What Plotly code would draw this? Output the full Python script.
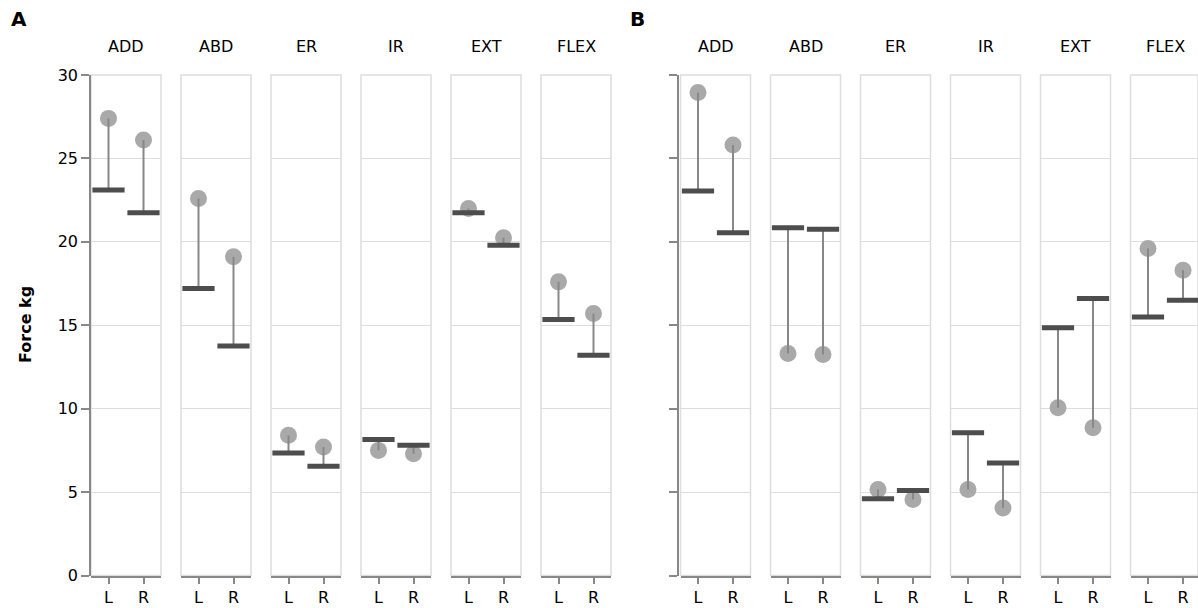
import plotly.graph_objects as go

# ---------------- data ----------------
categories = ["ADD", "ABD", "ER", "IR", "EXT", "FLEX"]
sides = ["L", "R"]
panels = ["A", "B"]

# panel A
A_circle_L = [27.4, 22.6, 8.4, 7.5, 22.0, 17.6]
A_circle_R = [26.1, 19.1, 7.7, 7.3, 20.25, 15.7]
A_bar_L = [23.1, 17.2, 7.35, 8.15, 21.75, 15.35]
A_bar_R = [21.75, 13.75, 6.55, 7.8, 19.8, 13.2]
# panel B
B_circle_L = [28.95, 13.3, 5.15, 5.15, 10.05, 19.6]
B_circle_R = [25.8, 13.25, 4.55, 4.05, 8.85, 18.3]
B_bar_L = [23.05, 20.85, 4.6, 8.55, 14.85, 15.5]
B_bar_R = [20.55, 20.75, 5.1, 6.75, 16.6, 16.5]

y_ticks = [0, 5, 10, 15, 20, 25, 30]
y_title = "Force kg"

panel_data = {
    "A": dict(cL=A_circle_L, cR=A_circle_R, bL=A_bar_L, bR=A_bar_R),
    "B": dict(cL=B_circle_L, cR=B_circle_R, bL=B_bar_L, bR=B_bar_R),
}

# ---------------- layout geometry ----------------
W, H = 1198, 608
FONT = "DejaVu Sans"
panel_base = {"A": 91, "B": 680.5}
axis_pos = {"A": 90, "B": 678}
facet_w, facet_step = 70, 90
y_top_px, y_bot_px = 75, 575.5
ydom = [1 - y_bot_px / H, 1 - y_top_px / H]

fig = go.Figure()
layout = dict(
    template="none",
    width=W, height=H, margin=dict(l=0, r=0, t=0, b=0, pad=0, autoexpand=False),
    plot_bgcolor="white", paper_bgcolor="white", showlegend=False,
    font=dict(family=FONT, size=16, color="black"),
)
shapes, annotations = [], []

idx = 0
for p in panels:
    d = panel_data[p]
    for i, cat in enumerate(categories):
        idx += 1
        xa = "x" if idx == 1 else f"x{idx}"
        ya = "y" if idx == 1 else f"y{idx}"
        xkey = "xaxis" if idx == 1 else f"xaxis{idx}"
        ykey = "yaxis" if idx == 1 else f"yaxis{idx}"
        left = panel_base[p] + i * facet_step
        right = min(left + facet_w, W)
        xr_hi = -0.5 + (right - left) / (facet_w / 2.0)

        circles = [d["cL"][i], d["cR"][i]]
        bars = [d["bL"][i], d["bR"][i]]

        # circles (measured)
        fig.add_trace(go.Scatter(
            x=sides, y=circles, mode="markers", xaxis=xa, yaxis=ya,
            marker=dict(symbol="circle", size=17, color="#a9a9a9",
                        line=dict(width=0)),
            hoverinfo="skip"))
        # connecting rules
        lx, ly = [], []
        for s, c, b in zip(sides, circles, bars):
            lx += [s, s, None]
            ly += [b, c, None]
        fig.add_trace(go.Scatter(
            x=lx, y=ly, mode="lines", xaxis=xa, yaxis=ya,
            line=dict(color="#888888", width=2), hoverinfo="skip"))
        # ticks (reference)
        fig.add_trace(go.Scatter(
            x=sides, y=bars, mode="markers", xaxis=xa, yaxis=ya,
            marker=dict(symbol="line-ew", size=23,
                        line=dict(width=5, color="#4d4d4d")),
            hoverinfo="skip"))

        layout[xkey] = dict(
            domain=[left / W, right / W], anchor=ya, automargin=False,
            type="category", categoryorder="array", categoryarray=sides,
            range=[-0.5, xr_hi], showgrid=False, zeroline=False,
            showline=True, linecolor="#888888", linewidth=1.5,
            ticks="outside", ticklen=7, tickcolor="#888888", tickwidth=1.5,
            tickfont=dict(family=FONT, size=16, color="black"),
            fixedrange=True,
        )
        ydict = dict(
            domain=ydom, range=[0, 30], tickvals=y_ticks, automargin=False,
            showgrid=True, gridcolor="#dddddd", gridwidth=1,
            zeroline=False, showticklabels=False, fixedrange=True,
        )
        if i == 0:
            ydict.update(
                anchor="free", position=axis_pos[p] / W,
                showline=True, linecolor="#888888", linewidth=1.5,
                ticks="outside", ticklen=8, tickcolor="#888888", tickwidth=1.5,
                showticklabels=(p == "A"),
                tickfont=dict(family=FONT, size=16, color="black"),
            )
        else:
            ydict.update(anchor=xa)
        layout[ykey] = ydict

        # facet frame
        shapes.append(dict(type="rect", xref=f"{xa} domain", yref=f"{ya} domain",
                           x0=0, x1=1, y0=0, y1=1, layer="below",
                           line=dict(color="#dddddd", width=1.5)))
        # facet header
        annotations.append(dict(
            text=cat, x=(left + facet_w / 2) / W, y=1 - 47 / H,
            xref="paper", yref="paper", showarrow=False,
            xanchor="center", yanchor="middle",
            font=dict(family=FONT, size=16, color="black")))

# panel letters
annotations.append(dict(text="<b>A</b>", x=19 / W, y=1 - 19 / H, xref="paper", yref="paper",
                        showarrow=False, xanchor="center", yanchor="middle",
                        font=dict(family=FONT, size=20, color="black")))
annotations.append(dict(text="<b>B</b>", x=637 / W, y=1 - 19 / H, xref="paper", yref="paper",
                        showarrow=False, xanchor="center", yanchor="middle",
                        font=dict(family=FONT, size=20, color="black")))
# y title
annotations.append(dict(text=f"<b>{y_title}</b>", x=25 / W, y=1 - 325 / H,
                        xref="paper", yref="paper", showarrow=False, textangle=-90,
                        xanchor="center", yanchor="middle",
                        font=dict(family=FONT, size=16, color="black")))

layout["shapes"] = shapes
layout["annotations"] = annotations
fig.update_layout(**layout)
fig.write_html("out.html", config={"displayModeBar": False})
